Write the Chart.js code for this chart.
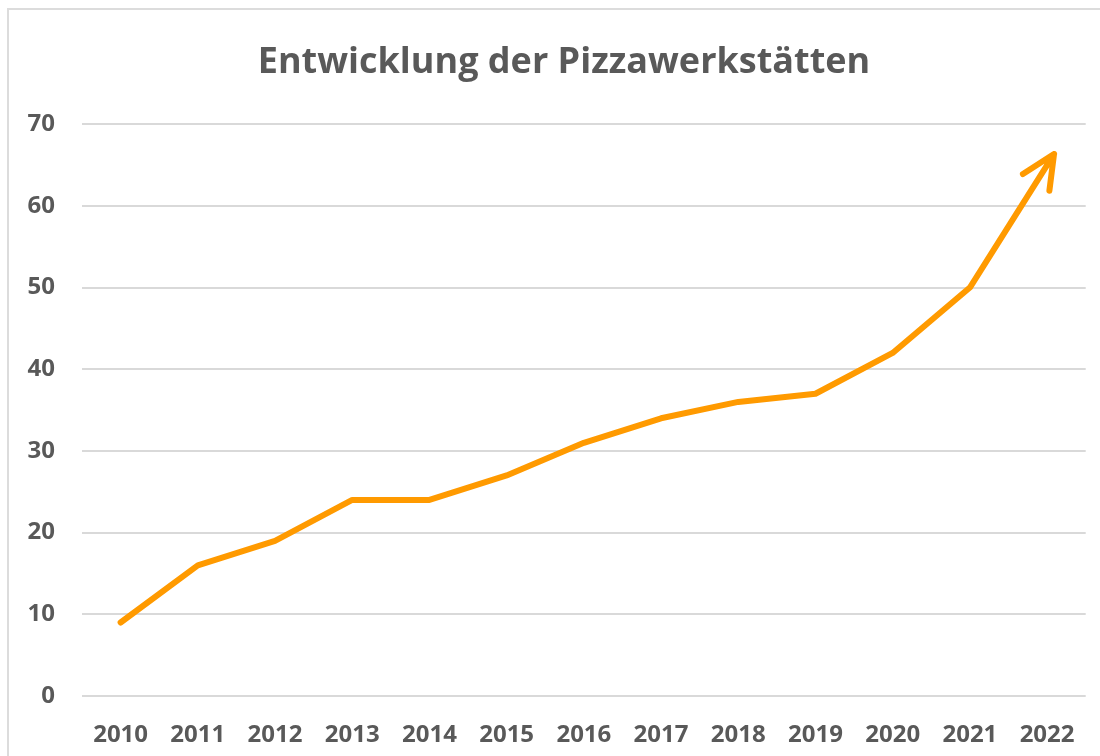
<!DOCTYPE html>
<html lang="de">
<head>
  <meta charset="UTF-8">
  <title>Entwicklung der Pizzawerkstätten</title>
  <script src="https://cdn.jsdelivr.net/npm/chart.js"></script>
  <style>
    html, body {
      margin: 0;
      padding: 0;
      background: #fff;
      overflow: hidden;
    }
    /* light frame, only top and left edges are visible in the window */
    #frame {
      position: absolute;
      left: 7px;
      top: 8px;
      width: 1200px;
      height: 900px;
      border: 2px solid #dcdcdc;
    }
    #wrap {
      position: absolute;
      left: 0;
      top: 0;
      width: 1100px;
      height: 756px;
    }
  </style>
</head>
<body>
<div id="frame"></div>
<div id="wrap">
  <canvas id="chart" width="1100" height="756"></canvas>
</div>

<script>
  const years = ['2010', '2011', '2012', '2013', '2014', '2015', '2016',
                 '2017', '2018', '2019', '2020', '2021', '2022'];
  const werkstaetten = [9, 16, 19, 24, 24, 27, 31, 34, 36, 37, 42, 50, 65];
  const yTicks = [0, 10, 20, 30, 40, 50, 60, 70];

  const orange = '#ff9a00';
  const grey = '#595959';

  // open arrow head at the end of the line, like the Excel line end
  const arrowHead = {
    id: 'arrowHead',
    afterDatasetsDraw(chart) {
      const pts = chart.getDatasetMeta(0).data;
      const a = pts[pts.length - 2], b = pts[pts.length - 1];
      const ang = Math.atan2(b.y - a.y, b.x - a.x);
      const ext = 13, wing = 37, spread = 25 * Math.PI / 180;
      const tx = b.x + Math.cos(ang) * ext;
      const ty = b.y + Math.sin(ang) * ext;
      const ctx = chart.ctx;
      ctx.save();
      ctx.strokeStyle = orange;
      ctx.lineWidth = 6;
      ctx.lineCap = 'round';
      ctx.lineJoin = 'round';
      ctx.beginPath();
      ctx.moveTo(b.x, b.y);
      ctx.lineTo(tx, ty);
      ctx.moveTo(tx + Math.cos(ang + Math.PI - spread) * wing, ty + Math.sin(ang + Math.PI - spread) * wing);
      ctx.lineTo(tx, ty);
      ctx.lineTo(tx + Math.cos(ang + Math.PI + spread) * wing, ty + Math.sin(ang + Math.PI + spread) * wing);
      ctx.stroke();
      ctx.restore();
    }
  };

  // title sits a bit right of the canvas centre in the original
  const shiftTitle = {
    id: 'shiftTitle',
    afterLayout(chart) {
      if (chart.titleBlock) chart.titleBlock.left = 40;
    }
  };

  const ctx = document.getElementById('chart').getContext('2d');
  new Chart(ctx, {
    type: 'line',
    data: {
      labels: years,
      datasets: [{
        data: werkstaetten,
        borderColor: orange,
        borderWidth: 6,
        borderCapStyle: 'round',
        borderJoinStyle: 'round',
        pointRadius: 0,
        tension: 0,
        fill: false
      }]
    },
    options: {
      responsive: false,
      animation: false,
      layout: {
        padding: { left: 0, right: 12, top: 0, bottom: 0 }
      },
      plugins: {
        legend: { display: false },
        tooltip: { enabled: false },
        title: {
          display: true,
          text: 'Entwicklung der Pizzawerkstätten',
          color: grey,
          font: { family: 'Open Sans', size: 36, weight: 'bold' },
          padding: { top: 41, bottom: 40 }
        }
      },
      scales: {
        x: {
          offset: true,
          grid: { display: false, drawTicks: false },
          border: { display: false },
          ticks: {
            color: grey,
            padding: 25,
            maxRotation: 0,
            font: { family: 'Open Sans', size: 24, weight: 'bold' }
          },
          afterFit(scale) { scale.height = 60; }
        },
        y: {
          min: 0,
          max: 70,
          afterBuildTicks(scale) {
            scale.ticks = yTicks.map(v => ({ value: v }));
          },
          grid: { color: '#d9d9d9', lineWidth: 2, drawTicks: false },
          border: { display: false },
          ticks: {
            color: grey,
            padding: 27,
            font: { family: 'Open Sans', size: 24, weight: 'bold' }
          },
          afterFit(scale) { scale.width = 82; }
        }
      }
    },
    plugins: [arrowHead, shiftTitle]
  });
</script>
</body>
</html>
